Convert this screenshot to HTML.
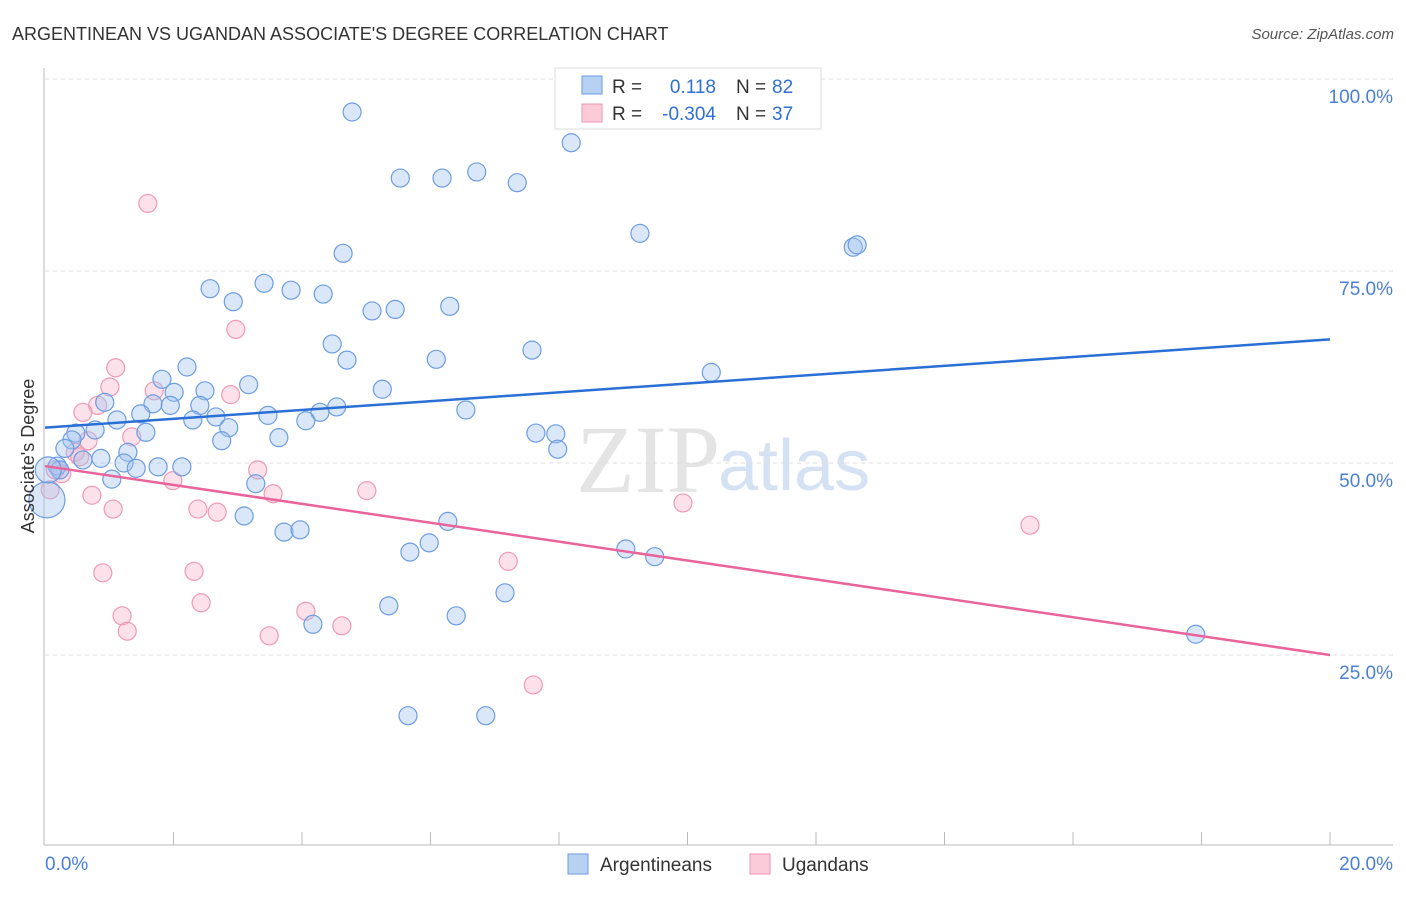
<!DOCTYPE html>
<html><head><meta charset="utf-8"><style>
body{margin:0;background:#fff;font-family:"Liberation Sans",sans-serif}
</style></head><body>
<svg id="c" width="1406" height="892" xmlns="http://www.w3.org/2000/svg" style="font-family:'Liberation Sans',sans-serif">
<text x="12" y="40" font-size="18" fill="#333">ARGENTINEAN VS UGANDAN ASSOCIATE'S DEGREE CORRELATION CHART</text>
<text x="1394" y="39" font-size="15" fill="#555" font-style="italic" text-anchor="end">Source: ZipAtlas.com</text>
<text x="720" y="492" font-size="96" fill="#e4e4e4" text-anchor="end" font-family="Liberation Serif">ZIP</text>
<text x="718" y="490" font-size="72" fill="#d5e2f3">atlas</text>
<g id="grid"></g><g id="pts"></g><g id="trend"></g>
<text x="34" y="456" font-size="18" fill="#333" text-anchor="middle" transform="rotate(-90 34 456)">Associate's Degree</text>
<g>
<rect x="555" y="68" width="266" height="61" fill="#fff" stroke="#ddd"/>
<rect x="582" y="76" width="20" height="18" fill="#b7d1f3" stroke="#6b9be0"/>
<rect x="582" y="104" width="20" height="18" fill="#fbcbd9" stroke="#ec94b0"/>
<text x="612" y="93" font-size="19" fill="#333">R = </text><text x="716" y="93" font-size="19" fill="#2f6fd6" text-anchor="end">0.118</text>
<text x="736" y="93" font-size="19" fill="#333">N = </text><text x="772" y="93" font-size="19" fill="#2f6fd6">82</text>
<text x="612" y="120" font-size="19" fill="#333">R = </text><text x="716" y="120" font-size="19" fill="#2f6fd6" text-anchor="end">-0.304</text>
<text x="736" y="120" font-size="19" fill="#333">N = </text><text x="772" y="120" font-size="19" fill="#2f6fd6">37</text>
</g>
<g>
<rect x="568" y="854" width="20" height="20" fill="#b7d1f3" stroke="#6b9be0"/>
<text x="600" y="871" font-size="19" fill="#333">Argentineans</text>
<rect x="750" y="854" width="20" height="20" fill="#fbcbd9" stroke="#ec94b0"/>
<text x="782" y="871" font-size="19" fill="#333">Ugandans</text>
</g>
</svg>
<script>
const yTicks=[100,75,50,25];
const yTickLabels=["100.0%","75.0%","50.0%","25.0%"];
const xTickLabels=["0.0%","20.0%"];
const blueX=[4.78,8.19,5.53,6.18,6.72,7.35,9.26,12.58,12.64,4.64,3.41,2.57,3.83,4.33,2.93,5.09,5.45,6.30,4.47,7.58,4.70,6.09,10.37,2.21,1.82,3.17,2.01,2.49,5.25,0.93,1.68,1.95,2.41,4.54,4.28,6.55,1.49,3.47,2.66,1.12,2.30,4.06,2.86,1.57,0.78,0.48,7.64,7.95,2.75,3.64,0.42,0.31,1.29,7.98,0.87,0.59,1.23,1.42,1.76,2.13,0.19,0.23,1.04,3.28,3.10,6.27,3.72,3.97,5.98,5.68,9.04,9.49,7.16,5.35,6.40,4.17,17.91,5.65,6.86,0.03,0.05,8.95];
const blueY=[95.7,91.7,87.1,87.1,87.9,86.5,79.9,78.1,78.4,77.3,73.4,72.7,72.5,72.0,71.0,69.8,70.0,70.4,65.5,64.7,63.4,63.5,61.8,62.5,60.9,60.2,59.2,59.4,59.6,57.9,57.7,57.5,57.5,57.3,56.6,56.9,56.4,56.2,56.0,55.6,55.6,55.5,54.6,54.0,54.3,53.9,53.9,53.8,52.9,53.3,53.0,51.9,51.4,51.8,50.6,50.4,50.0,49.3,49.5,49.5,49.6,49.1,47.9,47.3,43.1,42.4,41.0,41.3,39.6,38.4,38.8,37.8,33.1,31.4,30.1,29.0,27.7,17.1,17.1,45.2,49.1,99.9];
const blueSize=[9,9,9,9,9,9,9,9,9,9,9,9,9,9,9,9,9,9,9,9,9,9,9,9,9,9,9,9,9,9,9,9,9,9,9,9,9,9,9,9,9,9,9,9,9,9,9,9,9,9,9,9,9,9,9,9,9,9,9,9,9,9,9,9,9,9,9,9,9,9,9,9,9,9,9,9,9,9,9,18,13,9];
const pinkX=[1.60,2.97,1.10,1.01,1.70,2.89,0.82,0.59,1.35,0.67,0.47,0.54,3.31,0.26,0.16,1.99,0.08,5.01,3.55,0.73,9.93,1.06,2.38,2.68,15.33,7.21,0.90,2.32,2.43,4.06,1.20,1.28,4.62,3.49,7.60];
const pinkY=[83.8,67.4,62.4,59.9,59.4,58.9,57.5,56.6,53.4,52.9,51.4,50.8,49.1,48.6,49.1,47.7,46.5,46.4,46.0,45.8,44.8,44.0,44.0,43.6,41.9,37.2,35.7,35.9,31.8,30.7,30.1,28.1,28.8,27.5,21.1];
const blueTrend=[54.6,66.1];
const pinkTrend=[49.6,25.0];
const xDomain=[0,20];
const NS="http://www.w3.org/2000/svg";
const sx=v=>45+(v-xDomain[0])/(xDomain[1]-xDomain[0])*1285;
const sy=v=>847-v/100*768;
function mk(t,a,p){const e=document.createElementNS(NS,t);for(const k in a)e.setAttribute(k,a[k]);p.appendChild(e);return e;}
const grid=document.getElementById('grid');
yTicks.forEach((t,i)=>{
 const l=mk('line',{x1:45,x2:1393,y1:sy(t),y2:sy(t),stroke:'#ddd','stroke-dasharray':'4,4'},grid);
 
 
 const tx=mk('text',{x:1393,y:sy(t)+24,'font-size':19,fill:'#4a7fd8','text-anchor':'end'},grid);
 tx.textContent=yTickLabels[i];
 
 
});
let ax=mk('line',{x1:44,x2:44,y1:68,y2:845,stroke:'#bbb'},grid);


ax=mk('line',{x1:44,x2:1393,y1:845,y2:845,stroke:'#bbb'},grid);


for(let i=1;i<=10;i++){
 const v=xDomain[0]+i*(xDomain[1]-xDomain[0])/10;
 const t=mk('line',{x1:sx(v),x2:sx(v),y1:832,y2:845,stroke:'#bbb'},grid);
 
 
}
[[xDomain[0],'start',45],[xDomain[1],'end',1393]].forEach((d,i)=>{
 const t=mk('text',{x:d[2],y:870,'font-size':19,fill:'#4a7fd8','text-anchor':d[1]},grid);
 t.textContent=xTickLabels[i];
 
 
});
const pts=document.getElementById('pts');
pinkX.forEach((x,i)=>{
 const c=mk('circle',{cx:sx(x),cy:sy(pinkY[i]),r:9,fill:'rgba(246,170,195,0.35)',stroke:'#ef9ab5','stroke-width':1.2},pts);
 
 
});
blueX.forEach((x,i)=>{
 const c=mk('circle',{cx:sx(x),cy:sy(blueY[i]),r:blueSize[i],fill:'rgba(160,195,240,0.4)',stroke:'#6d9de2','stroke-width':1.2},pts);
 
 
});
const tr=document.getElementById('trend');
let l=mk('line',{x1:sx(xDomain[0]),x2:sx(xDomain[1]),y1:sy(blueTrend[0]),y2:sy(blueTrend[1]),stroke:'#2a6fd6','stroke-width':2.5},tr);


l=mk('line',{x1:sx(xDomain[0]),x2:sx(xDomain[1]),y1:sy(pinkTrend[0]),y2:sy(pinkTrend[1]),stroke:'#e8649a','stroke-width':2.5},tr);


</script>
</body></html>
